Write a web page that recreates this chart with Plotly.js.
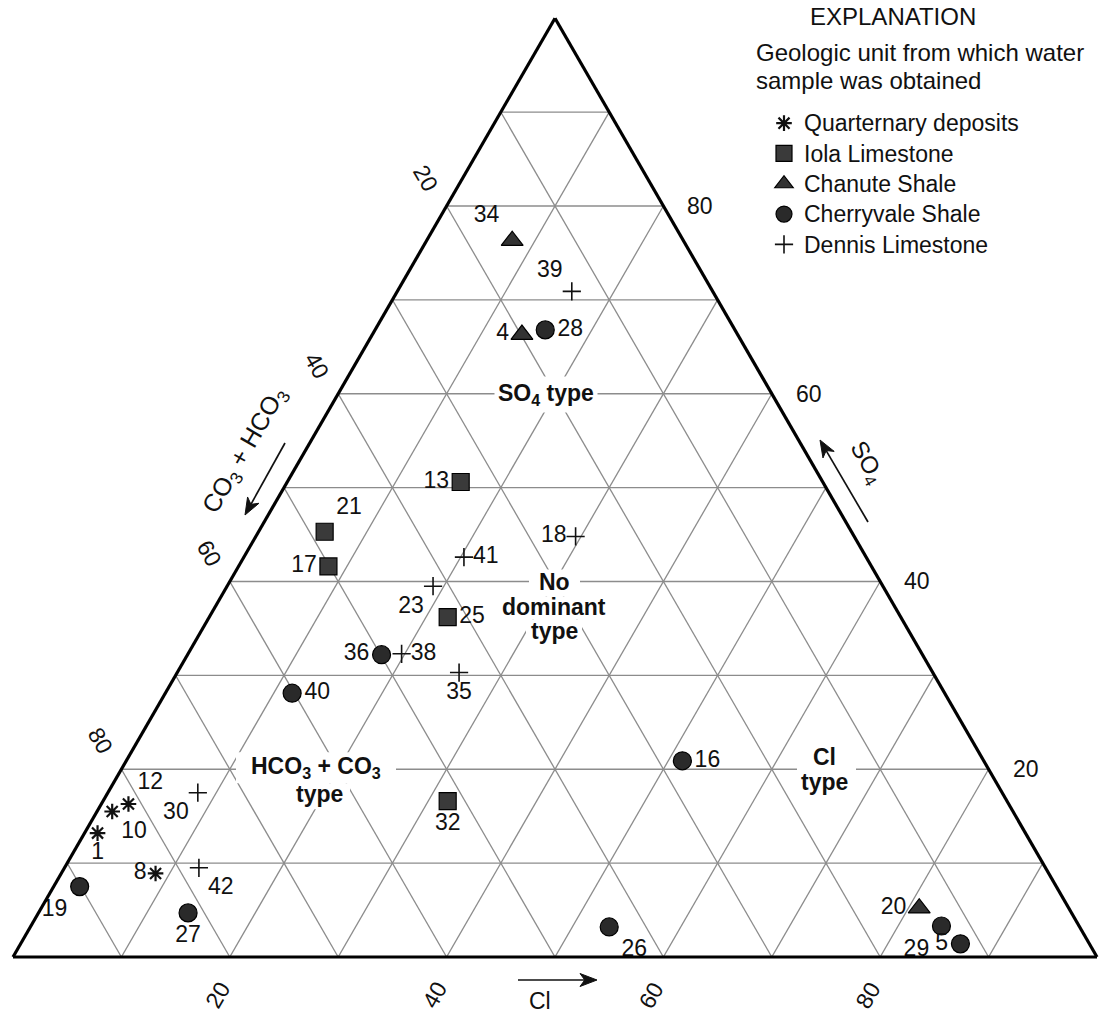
<!DOCTYPE html>
<html>
<head>
<meta charset="utf-8">
<script src="https://cdn.plot.ly/plotly-3.0.1.min.js"></script>
<style>
html, body { margin: 0; padding: 0; background: #ffffff; }
#chart { width: 1100px; height: 1026px; }
</style>
</head>
<body>
<div id="chart"></div>
<script>
// ---------------- DATA (percent of total anions) ----------------
// a = SO4, b = CO3 + HCO3, c = Cl
const quaternaryIds  = ['12', '10', '1', '8'];
const quaternarySO4  = [16.3, 15.5, 13.2, 8.9];
const quaternaryHCO3 = [81.2, 83.1, 85.6, 82.4];
const quaternaryCl   = [2.5, 1.4, 1.2, 8.7];

const iolaIds  = ['13', '21', '17', '25', '32'];
const iolaSO4  = [50.6, 45.3, 41.6, 36.2, 16.6];
const iolaHCO3 = [33.4, 48.6, 50.1, 41.8, 51.6];
const iolaCl   = [16.0, 6.1, 8.3, 22.0, 31.8];

const chanuteIds  = ['34', '4', '20'];
const chanuteSO4  = [76.3, 66.3, 5.2];
const chanuteHCO3 = [15.8, 19.9, 13.8];
const chanuteCl   = [7.9, 13.8, 81.0];

const cherryvaleIds  = ['28', '36', '40', '16', '19', '27', '26', '29', '5'];
const cherryvaleSO4  = [66.8, 32.2, 28.1, 20.9, 7.5, 4.7, 3.2, 3.3, 1.4];
const cherryvaleHCO3 = [17.5, 49.9, 60.2, 27.8, 90.1, 81.5, 43.4, 12.7, 11.9];
const cherryvaleCl   = [15.7, 17.9, 11.7, 51.3, 2.4, 13.8, 53.4, 84.0, 86.7];

const dennisIds  = ['39', '18', '41', '23', '38', '35', '30', '42'];
const dennisSO4  = [70.9, 44.8, 42.6, 39.5, 32.3, 30.3, 17.5, 9.5];
const dennisHCO3 = [13.0, 25.7, 37.1, 41.5, 48.0, 43.7, 74.2, 78.1];
const dennisCl   = [16.1, 29.5, 20.3, 19.0, 19.7, 26.0, 8.3, 12.4];

const unitNames = ['Quarternary deposits', 'Iola Limestone', 'Chanute Shale', 'Cherryvale Shale', 'Dennis Limestone'];
const tickValues = [20, 40, 60, 80];

// ---------------- STYLE / LAYOUT ----------------
const FONT = 'Liberation Sans, Arial, Helvetica, sans-serif';
const INK = '#111111';
const W = 1100, H = 1026;
const triLeft = 13, triRight = 1097, triBottom = 957;
const triWidth = triRight - triLeft;
const triHeight = triWidth * Math.sqrt(3) / 2;
const triTop = triBottom - triHeight;
const domTop = 11;
const domBottom = triBottom + triTop - domTop;

function px(x) { return x / W; }
function py(y) { return 1 - y / H; }
// pixel position of a ternary point (a = SO4 %, c = Cl %) in the drawn triangle
function ternPx(a, c) {
  return [triLeft + (c + a / 2) / 100 * triWidth, triBottom - a / 100 * triHeight];
}
function yAt(a) { return triBottom - a / 100 * triHeight; }

const markerStyles = [
  {symbol: 'asterisk-open', size: 13, color: INK, line: {width: 2.2, color: INK}},
  {symbol: 'square', size: 17, color: '#3a3a3a', line: {width: 1.2, color: '#000000'}},
  {symbol: 'triangle-up', size: 19, color: '#333333', line: {width: 1.2, color: '#000000'}},
  {symbol: 'circle', size: 18, color: '#2a2a2a', line: {width: 1.2, color: '#000000'}},
  {symbol: 'cross-thin-open', size: 13, color: INK, line: {width: 1.6, color: INK}}
];

const labelPositions = [
  ['top right', 'bottom right', 'bottom center', 'middle left'],
  ['middle left', 'top right', 'middle left', 'middle right', 'bottom center'],
  ['top left', 'middle left', 'middle left'],
  ['middle right', 'middle left', 'middle right', 'middle right', 'bottom left', 'bottom center', 'bottom right', 'bottom left', 'middle left'],
  ['top left', 'middle left', 'middle right', 'bottom left', 'middle right', 'bottom center', 'bottom left', 'bottom right']
];

const groups = [
  {ids: quaternaryIds, a: quaternarySO4, b: quaternaryHCO3, c: quaternaryCl},
  {ids: iolaIds, a: iolaSO4, b: iolaHCO3, c: iolaCl},
  {ids: chanuteIds, a: chanuteSO4, b: chanuteHCO3, c: chanuteCl},
  {ids: cherryvaleIds, a: cherryvaleSO4, b: cherryvaleHCO3, c: cherryvaleCl},
  {ids: dennisIds, a: dennisSO4, b: dennisHCO3, c: dennisCl}
];

const traces = [];
groups.forEach(function (g, i) {
  traces.push({
    type: 'scatterternary', mode: 'markers',
    name: '<span style="font-size:23px">' + unitNames[i] + '</span>',
    a: g.a, b: g.b, c: g.c,
    marker: markerStyles[i], cliponaxis: false, hoverinfo: 'skip'
  });
});
groups.forEach(function (g, i) {
  traces.push({
    type: 'scatterternary', mode: 'markers+text', showlegend: false,
    a: g.a, b: g.b, c: g.c, text: g.ids,
    textposition: labelPositions[i],
    textfont: {family: FONT, size: 23, color: INK},
    marker: {symbol: markerStyles[i].symbol, size: markerStyles[i].size, opacity: 0},
    cliponaxis: false, hoverinfo: 'skip'
  });
});

const axisStyle = {
  title: {text: ''},
  min: 0, dtick: 10, tick0: 0,
  showticklabels: false, ticks: '',
  showgrid: true, gridcolor: '#8c8c8c', gridwidth: 1.3,
  showline: true, linecolor: '#000000', linewidth: 3.2
};

const annotations = [];
function addText(text, x, y, opts) {
  annotations.push(Object.assign({
    text: text, x: px(x), y: py(y), xref: 'paper', yref: 'paper',
    showarrow: false, xanchor: 'center', yanchor: 'middle',
    font: {family: FONT, size: 23, color: INK}
  }, opts || {}));
}

const shapes = [];
// white masks that interrupt the grid behind the water-type labels
function addMask(x0, x1, y0, y1) {
  shapes.push({
    type: 'rect', xref: 'paper', yref: 'paper', layer: 'above',
    x0: px(x0), x1: px(x1), y0: py(y1), y1: py(y0),
    fillcolor: '#ffffff', line: {width: 0}
  });
}
// arrow drawn as a line plus a barbed head
function addArrow(tx, ty, hx, hy) {
  const len = Math.hypot(hx - tx, hy - ty);
  const ux = (hx - tx) / len, uy = (hy - ty) / len;
  const nx = -uy, ny = ux;
  const L = 17, Wd = 6.5;
  const bx = hx - ux * L, by = hy - uy * L;
  const kx = hx - ux * L * 0.72, ky = hy - uy * L * 0.72;
  shapes.push({
    type: 'line', xref: 'paper', yref: 'paper', layer: 'above',
    x0: px(tx), y0: py(ty), x1: px(kx), y1: py(ky),
    line: {color: INK, width: 1.7}
  });
  const path = 'M ' + px(hx) + ' ' + py(hy) +
    ' L ' + px(bx + nx * Wd) + ' ' + py(by + ny * Wd) +
    ' L ' + px(kx) + ' ' + py(ky) +
    ' L ' + px(bx - nx * Wd) + ' ' + py(by - ny * Wd) + ' Z';
  shapes.push({
    type: 'path', xref: 'paper', yref: 'paper', layer: 'above',
    path: path, fillcolor: INK, line: {color: INK, width: 1}
  });
}

// tick labels along the three sides
tickValues.forEach(function (v) {
  const l = ternPx(100 - v, 0);            // CO3 + HCO3 on left side
  addText(String(v), l[0] - 21, l[1] - 28, {textangle: 60});
  const r = ternPx(v, 100 - v);            // SO4 on right side
  addText(String(v), r[0] + 37, r[1]);
  const bt = ternPx(0, v);                 // Cl on bottom side
  addText(String(v), bt[0] - 12, bt[1] + 38, {textangle: -60});
});

// axis titles and arrows
addText('CO<sub>3</sub> + HCO<sub>3</sub>', 245, 451, {textangle: -60, font: {family: FONT, size: 25, color: INK}});
addArrow(285, 443, 245, 515);
addText('SO<sub>4</sub>', 866, 463, {textangle: 60, font: {family: FONT, size: 24, color: INK}});
addArrow(868, 522, 820, 440);
addText('Cl', 540, 1001, {font: {family: FONT, size: 23, color: INK}});
addArrow(518, 980, 597, 980);

// water-type region labels
const boldFont = {family: FONT, size: 23, color: INK, weight: 'bold'};
// SO4 type
addText('<b>SO<sub>4</sub> type</b>', 546, yAt(60) + 1, {bgcolor: '#ffffff', borderpad: 3, font: boldFont});
// No dominant type
const y40 = yAt(40);
addMask(529, 580, y40 - 12, y40 + 15);
addMask(496, 613, y40 + 15, y40 + 38);
addMask(526, 582, y40 + 38, y40 + 62);
addText('<b>No</b>', 554, y40 + 1, {font: boldFont});
addText('<b>dominant</b>', 554, y40 + 26, {font: boldFont});
addText('<b>type</b>', 554, y40 + 50, {font: boldFont});
// HCO3 + CO3 type
const y20 = yAt(20);
addMask(236, 396, y20 - 17, y20 + 14);
addMask(291, 350, y20 + 14, y20 + 40);
addText('<b>HCO<sub>3</sub> + CO<sub>3</sub></b>', 316, y20 - 2, {font: boldFont});
addText('<b>type</b>', 319, y20 + 25, {font: boldFont});
// Cl type
addMask(797, 856, y20 - 22, y20 + 26);
addText('<b>Cl</b>', 824, y20 - 12, {font: boldFont});
addText('<b>type</b>', 824, y20 + 13, {font: boldFont});

// explanation heading
addText('EXPLANATION', 893, 16, {font: {family: FONT, size: 24, color: INK}});
addText('Geologic unit from which water', 754, 52, {xanchor: 'left', font: {family: FONT, size: 24, color: INK}});
addText('sample was obtained', 754, 80, {xanchor: 'left', font: {family: FONT, size: 24, color: INK}});

const layout = {
  width: W, height: H,
  margin: {l: 0, r: 0, t: 0, b: 0},
  paper_bgcolor: '#ffffff',
  font: {family: FONT, size: 22, color: INK},
  showlegend: true,
  hovermode: false,
  legend: {
    x: px(764), y: py(103), xanchor: 'left', yanchor: 'top',
    bgcolor: 'rgba(0,0,0,0)', borderwidth: 0,
    font: {family: FONT, size: 21, color: INK},
    traceorder: 'normal', tracegroupgap: 0
  },
  ternary: {
    sum: 100,
    domain: {x: [px(triLeft), px(triRight)], y: [py(domBottom), py(domTop)]},
    bgcolor: '#ffffff',
    aaxis: axisStyle, baxis: axisStyle, caxis: axisStyle
  },
  shapes: shapes,
  annotations: annotations
};

Plotly.newPlot('chart', traces, layout, {displayModeBar: false, staticPlot: true});
</script>
</body>
</html>
